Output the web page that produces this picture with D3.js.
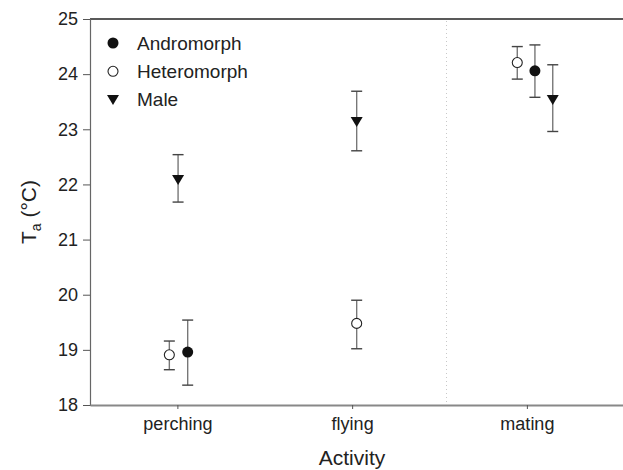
<!DOCTYPE html>
<html>
<head>
<meta charset="utf-8">
<script src="https://cdn.jsdelivr.net/npm/d3@7"></script>
<style>
  html, body { margin: 0; padding: 0; background: #fff; overflow: hidden; }
  svg { display: block; font-family: "Liberation Sans", Arial, sans-serif; }
</style>
</head>
<body>
<svg id="chart" width="623" height="470"></svg>
<script>
// ---- data ----
const categories = ["perching", "flying", "mating"];
const seriesNames = ["Andromorph", "Heteromorph", "Male"];
// mean, lower error, upper error (°C); null = not present
const andromorphMean  = [18.96, null, 24.06];
const andromorphLow   = [18.36, null, 23.58];
const andromorphHigh  = [19.54, null, 24.53];
const heteromorphMean = [18.91, 19.48, 24.21];
const heteromorphLow  = [18.64, 19.02, 23.91];
const heteromorphHigh = [19.16, 19.90, 24.50];
const maleMean        = [22.09, 23.14, 23.54];
const maleLow         = [21.68, 22.61, 22.96];
const maleHigh        = [22.54, 23.69, 24.17];
// horizontal dodge (in category units) of each series at each category
const andromorphDodge  = [0.059, 0, 0.046];
const heteromorphDodge = [-0.046, 0.026, -0.055];
const maleDodge        = [0.004, 0.026, 0.148];
const yTicks = [18, 19, 20, 21, 22, 23, 24, 25];
const dividerAt = 2.54;

// ---- layout ----
const svg = d3.select("#chart");
const mLeft = 90, mRight = 623, mTop = 19, mBottom = 405;
const x = d3.scaleLinear().domain([0.5, 3.55]).range([mLeft, mRight]);
const y = d3.scaleLinear().domain([18, 25]).range([mBottom, mTop]);

const series = [
  { name: seriesNames[0], mean: andromorphMean, lo: andromorphLow, hi: andromorphHigh, dodge: andromorphDodge, shape: "filled" },
  { name: seriesNames[1], mean: heteromorphMean, lo: heteromorphLow, hi: heteromorphHigh, dodge: heteromorphDodge, shape: "open" },
  { name: seriesNames[2], mean: maleMean, lo: maleLow, hi: maleHigh, dodge: maleDodge, shape: "tri" }
];

// divider (dotted)
svg.append("line")
  .attr("x1", x(dividerAt)).attr("x2", x(dividerAt))
  .attr("y1", mTop + 2).attr("y2", mBottom - 2)
  .attr("stroke", "#c8c8c8").attr("stroke-width", 1)
  .attr("stroke-dasharray", "1,3");

// top border
svg.append("line")
  .attr("x1", mLeft).attr("x2", mRight + 5).attr("y1", mTop).attr("y2", mTop)
  .attr("stroke", "#222").attr("stroke-width", 1.5);

// y axis
const yAxis = svg.append("g").attr("transform", `translate(${mLeft},0)`)
  .call(d3.axisLeft(y).tickValues(yTicks).tickFormat(d3.format("d")).tickSize(7).tickPadding(5));
yAxis.select(".domain").attr("stroke", "#666").attr("stroke-width", 1.2);
yAxis.selectAll(".tick line").attr("stroke", "#555");
yAxis.selectAll("text").attr("font-size", 18).attr("fill", "#222")
  .attr("font-family", "Liberation Sans, Arial, sans-serif");

// x axis
const xAxis = svg.append("g").attr("transform", `translate(0,${mBottom})`)
  .call(d3.axisBottom(x).tickValues([1, 2, 3]).tickFormat((d) => categories[d - 1]).tickSize(4).tickPadding(8).tickSizeOuter(0));
xAxis.select(".domain").attr("stroke", "#888").attr("stroke-width", 2);
xAxis.selectAll(".tick line").attr("stroke", "#555");
xAxis.selectAll("text").attr("font-size", 18).attr("fill", "#222")
  .attr("font-family", "Liberation Sans, Arial, sans-serif");

// axis titles
svg.append("text")
  .attr("x", (mLeft + 614) / 2).attr("y", 465)
  .attr("text-anchor", "middle").attr("font-size", 21).attr("fill", "#222")
  .text("Activity");

const yt = svg.append("text")
  .attr("transform", `translate(36,${(mTop + mBottom) / 2}) rotate(-90)`)
  .attr("text-anchor", "middle").attr("font-size", 21).attr("fill", "#222");
yt.append("tspan").text("T");
yt.append("tspan").attr("font-size", 14).attr("dy", 5).text("a");
yt.append("tspan").attr("dy", -5).text("\u00a0(°C)");

// marks
const capHalf = 5.5;
function drawMarker(g, shape, cx, cy) {
  if (shape === "filled") {
    g.append("circle").attr("cx", cx).attr("cy", cy).attr("r", 5.5).attr("fill", "#111");
  } else if (shape === "open") {
    g.append("circle").attr("cx", cx).attr("cy", cy).attr("r", 5).attr("fill", "#fff")
      .attr("stroke", "#222").attr("stroke-width", 1.1);
  } else {
    const w = 6, h = 9;
    g.append("path")
      .attr("d", `M${cx - w},${cy - h / 2}L${cx + w},${cy - h / 2}L${cx},${cy + h / 2 + 1}Z`)
      .attr("fill", "#111");
  }
}

const marks = svg.append("g");
series.forEach((s) => {
  categories.forEach((c, i) => {
    if (s.mean[i] == null) return;
    const cx = x(i + 1 + s.dodge[i]);
    const g = marks.append("g");
    g.append("line").attr("x1", cx).attr("x2", cx)
      .attr("y1", y(s.lo[i])).attr("y2", y(s.hi[i]))
      .attr("stroke", "#777").attr("stroke-width", 1.4);
    [s.lo[i], s.hi[i]].forEach((v) => {
      g.append("line").attr("x1", cx - capHalf).attr("x2", cx + capHalf)
        .attr("y1", y(v)).attr("y2", y(v))
        .attr("stroke", "#444").attr("stroke-width", 1.4);
    });
    drawMarker(g, s.shape, cx, y(s.mean[i]));
  });
});

// legend
const legend = svg.append("g");
series.forEach((s, i) => {
  const cy = 43 + i * 28.3;
  drawMarker(legend, s.shape, 113, cy);
  legend.append("text").attr("x", 137).attr("y", cy).attr("dy", "0.36em")
    .attr("font-size", 19).attr("fill", "#222").text(s.name);
});
</script>
</body>
</html>
